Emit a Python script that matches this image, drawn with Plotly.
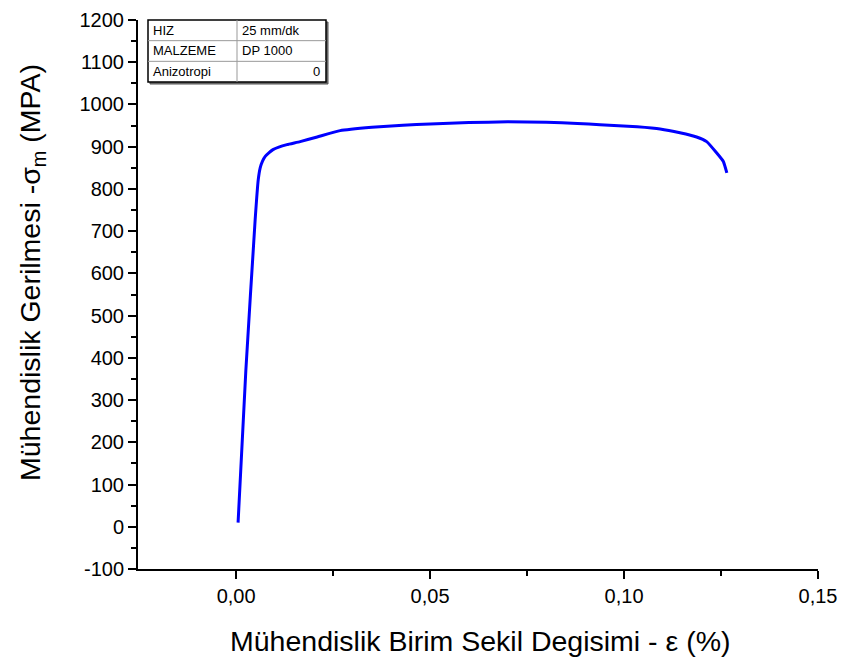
import plotly.graph_objects as go

strain = [0.0005, 0.0025, 0.0049, 0.0057, 0.0062, 0.0068, 0.0075, 0.0085, 0.0095, 0.0110,
          0.0131, 0.0165, 0.0209, 0.0268, 0.035, 0.043, 0.050, 0.060, 0.070, 0.080,
          0.0880, 0.0938, 0.1034, 0.1093, 0.1144, 0.1187, 0.1213, 0.1239, 0.1256, 0.1265]
stress = [10, 370, 727, 822, 850, 866, 877, 886, 893, 899,
          905, 912, 923, 938, 946, 951, 954, 957, 959, 958,
          955, 952, 947, 942, 933, 923, 912, 885, 865, 838]

y_ticks = list(range(-100, 1201, 100))
y_labels = [str(v) for v in y_ticks]
x_ticks = [0, 0.05, 0.10, 0.15]
x_labels = ["0,00", "0,05", "0,10", "0,15"]

x_title = "Mühendislik Birim Sekil Degisimi - ε (%)"
y_title = "Mühendislik Gerilmesi -σ<sub>m</sub> (MPA)"

table_rows = [("HIZ", "25 mm/dk"), ("MALZEME", "DP 1000"), ("Anizotropi", "0")]

W, H = 843, 661
L, R, T, B = 138, 818, 20, 569

def px(x):
    return (x - L) / (R - L)

def py(y):
    return (B - y) / (B - T)

fig = go.Figure()
fig.add_trace(go.Scatter(x=strain, y=stress, mode="lines",
                         line=dict(color="#0000FF", width=3), line_shape="spline",
                         line_smoothing=0.4, showlegend=False))

font = "Liberation Sans, Arial, sans-serif"
fig.update_layout(
    width=W, height=H,
    margin=dict(l=L, r=W - R, t=T, b=H - B),
    plot_bgcolor="white", paper_bgcolor="white",
    font=dict(family=font, color="black"),
    xaxis=dict(range=[-0.0253, 0.15], tickvals=x_ticks, ticktext=x_labels, automargin=False,
               ticks="outside", ticklen=8, tickwidth=2, tickcolor="black",
               showline=True, linewidth=2, linecolor="black", showgrid=False, zeroline=False,
               tickfont=dict(size=20),
               minor=dict(tickvals=[0.025, 0.075, 0.125], ticks="outside", ticklen=5, tickwidth=2, tickcolor="black")),
    yaxis=dict(range=[-100, 1200], tickvals=y_ticks, ticktext=y_labels, automargin=False,
               ticks="outside", ticklen=8, tickwidth=2, tickcolor="black",
               showline=True, linewidth=2, linecolor="black", showgrid=False, zeroline=False,
               tickfont=dict(size=20),
               minor=dict(dtick=50, ticks="outside", ticklen=5, tickwidth=2, tickcolor="black")),
)

# axis titles
fig.add_annotation(x=px(480), y=py(641), xref="paper", yref="paper", text=x_title, showarrow=False,
                   xanchor="center", yanchor="middle", font=dict(size=28.5, family=font))
fig.add_annotation(x=px(32), y=py(273), xref="paper", yref="paper", text=y_title, showarrow=False,
                   textangle=-90, xanchor="center", yanchor="middle", font=dict(size=28.5, family=font))

# table box
tl, tr, tt, tb = 148, 326, 20, 82
colx = 237
row_h = (tb - tt) / 3
shapes = [
    dict(type="rect", xref="paper", yref="paper", x0=px(tl + 2), x1=px(tr + 2), y0=py(tb + 2), y1=py(tt + 2),
         line=dict(color="#555", width=1), fillcolor="#777", layer="above"),
    dict(type="rect", xref="paper", yref="paper", x0=px(tl), x1=px(tr), y0=py(tb), y1=py(tt),
         line=dict(color="black", width=1.5), fillcolor="white", layer="above"),
    dict(type="line", xref="paper", yref="paper", x0=px(colx), x1=px(colx), y0=py(tb), y1=py(tt),
         line=dict(color="#999", width=1), layer="above"),
]
for i in (1, 2):
    yy = tt + i * row_h
    shapes.append(dict(type="line", xref="paper", yref="paper", x0=px(tl), x1=px(tr), y0=py(yy), y1=py(yy),
                       line=dict(color="#999", width=1), layer="above"))
fig.update_layout(shapes=shapes)

for i, (k, v) in enumerate(table_rows):
    yc = tt + (i + 0.5) * row_h
    fig.add_annotation(x=px(tl + 3), y=py(yc), xref="paper", yref="paper", text=k, showarrow=False,
                       xanchor="left", yanchor="middle", font=dict(size=13, family=font))
    if i < 2:
        fig.add_annotation(x=px(colx + 3), y=py(yc), xref="paper", yref="paper", text=v, showarrow=False,
                           xanchor="left", yanchor="middle", font=dict(size=13, family=font))
    else:
        fig.add_annotation(x=px(tr - 4), y=py(yc), xref="paper", yref="paper", text=v, showarrow=False,
                           xanchor="right", yanchor="middle", font=dict(size=13, family=font))

fig.write_html("out.html")
